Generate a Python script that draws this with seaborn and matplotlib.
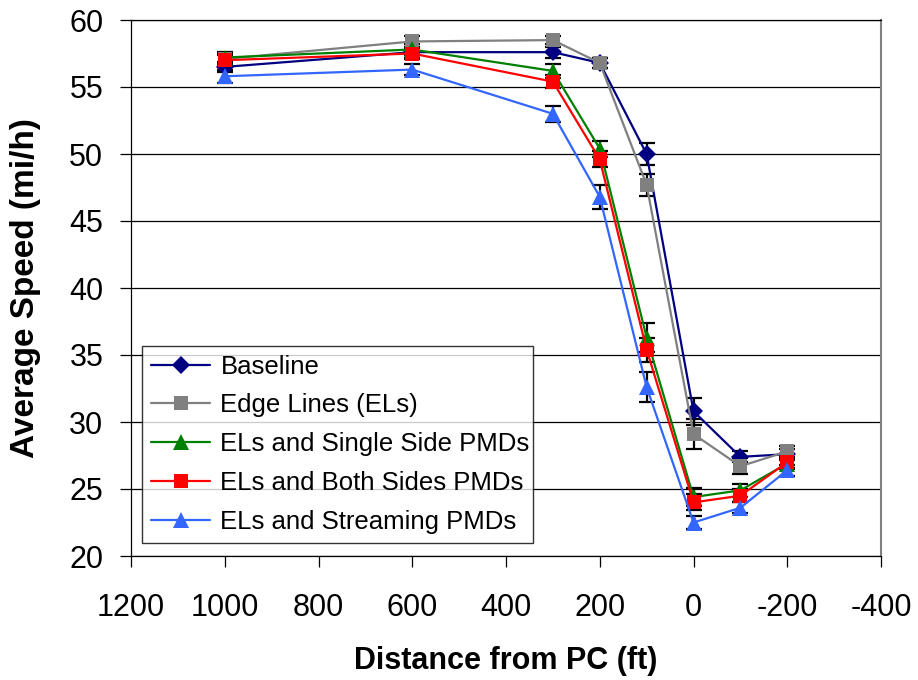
import numpy as np
import pandas as pd
import matplotlib
matplotlib.use("Agg")
import matplotlib.pyplot as plt
import seaborn as sns

# distance from PC (ft)
distance = [1000, 600, 300, 200, 100, 0, -100, -200]

series_names = ["Baseline", "Edge Lines (ELs)", "ELs and Single Side PMDs",
                "ELs and Both Sides PMDs", "ELs and Streaming PMDs"]

baseline = [56.5, 57.6, 57.6, 56.8, 50.0, 30.8, 27.4, 27.6]
edge_lines = [57.1, 58.4, 58.5, 56.8, 47.7, 29.1, 26.7, 27.8]
single_side = [57.2, 57.8, 56.2, 50.4, 36.3, 24.4, 24.9, 26.9]
both_sides = [57.0, 57.5, 55.4, 49.6, 35.4, 24.0, 24.5, 27.0]
streaming = [55.8, 56.3, 53.0, 46.8, 32.6, 22.5, 23.6, 26.4]

# error bar half widths
err_baseline = [0.4, 0.4, 0.4, 0.4, 0.8, 1.0, 0.4, 0.4]
err_edge = [0.4, 0.4, 0.3, 0.4, 0.8, 1.1, 0.6, 0.4]
err_single = [0.4, 0.4, 0.5, 0.6, 1.1, 0.7, 0.5, 0.4]
err_both = [0.4, 0.4, 0.5, 0.6, 0.9, 0.6, 0.5, 0.4]
err_stream = [0.5, 0.4, 0.6, 0.9, 1.1, 0.5, 0.4, 0.4]

colors = ["#000080", "#808080", "#008000", "#FF0000", "#3366FF"]
markers = ["D", "s", "^", "s", "^"]
msizes = [9, 10, 11, 10, 11]

values = [baseline, edge_lines, single_side, both_sides, streaming]
errors = [err_baseline, err_edge, err_single, err_both, err_stream]

rows = []
for name, vals, errs in zip(series_names, values, errors):
    for d, v, e in zip(distance, vals, errs):
        rows.append({"Distance": d, "Speed": v, "Err": e, "Series": name})
df = pd.DataFrame(rows)

sns.set_style("white")
plt.rcParams["font.family"] = ["Liberation Sans", "DejaVu Sans"]
plt.rcParams["axes.unicode_minus"] = False
plt.rcParams["text.color"] = "black"
plt.rcParams["axes.labelcolor"] = "black"
plt.rcParams["xtick.color"] = "black"
plt.rcParams["ytick.color"] = "black"

fig = plt.figure(figsize=(9.18, 6.8), dpi=100)
ax = fig.add_axes([131 / 918, 1 - 556 / 680, 750 / 918, 536 / 680])

# error bars first so the markers sit on top
for name in series_names:
    sub = df[df["Series"] == name]
    ax.errorbar(sub["Distance"], sub["Speed"], yerr=sub["Err"], fmt="none",
                ecolor="black", elinewidth=1.6, capsize=5.5, capthick=1.6, zorder=2)

for name, c, m, ms in zip(series_names, colors, markers, msizes):
    sub = df[df["Series"] == name]
    sns.lineplot(data=sub, x="Distance", y="Speed", color=c, marker=m,
                 markersize=ms, markeredgewidth=0, linewidth=1.6,
                 label=name, ax=ax, zorder=3, sort=False, errorbar=None)

ax.set_xlim(1200, -400)
ax.set_ylim(20, 60)
ax.set_xticks(np.arange(1200, -401, -200))
ax.set_yticks(np.arange(20, 61, 5))
ax.yaxis.grid(True, color="black", linewidth=0.9)
ax.xaxis.grid(False)

ax.tick_params(axis="y", direction="out", length=8, width=0.9, colors="black",
               labelsize=22, pad=12, left=True)
ax.tick_params(axis="x", direction="out", length=8, width=0.9, colors="black",
               labelsize=22, pad=19, bottom=True)

for side in ["left", "bottom", "top"]:
    ax.spines[side].set_color("black")
    ax.spines[side].set_linewidth(0.9)
ax.spines["right"].set_color("#808080")
ax.spines["right"].set_linewidth(1.5)

ax.set_xlabel("Distance from PC (ft)", fontsize=22, fontweight="bold", labelpad=16)
ax.set_ylabel("Average Speed (mi/h)", fontsize=24, fontweight="bold", labelpad=20)

leg = ax.legend(loc="lower left", bbox_to_anchor=(0.0147, 0.024, 0.521, 0.373),
                mode="expand", fontsize=18.5, frameon=True, fancybox=False,
                handlelength=2.3, borderaxespad=0, labelspacing=0.58,
                handletextpad=0.4, borderpad=0.35)
leg.get_frame().set_edgecolor("black")
leg.get_frame().set_linewidth(1.0)

plt.savefig("out.png", dpi=100)
